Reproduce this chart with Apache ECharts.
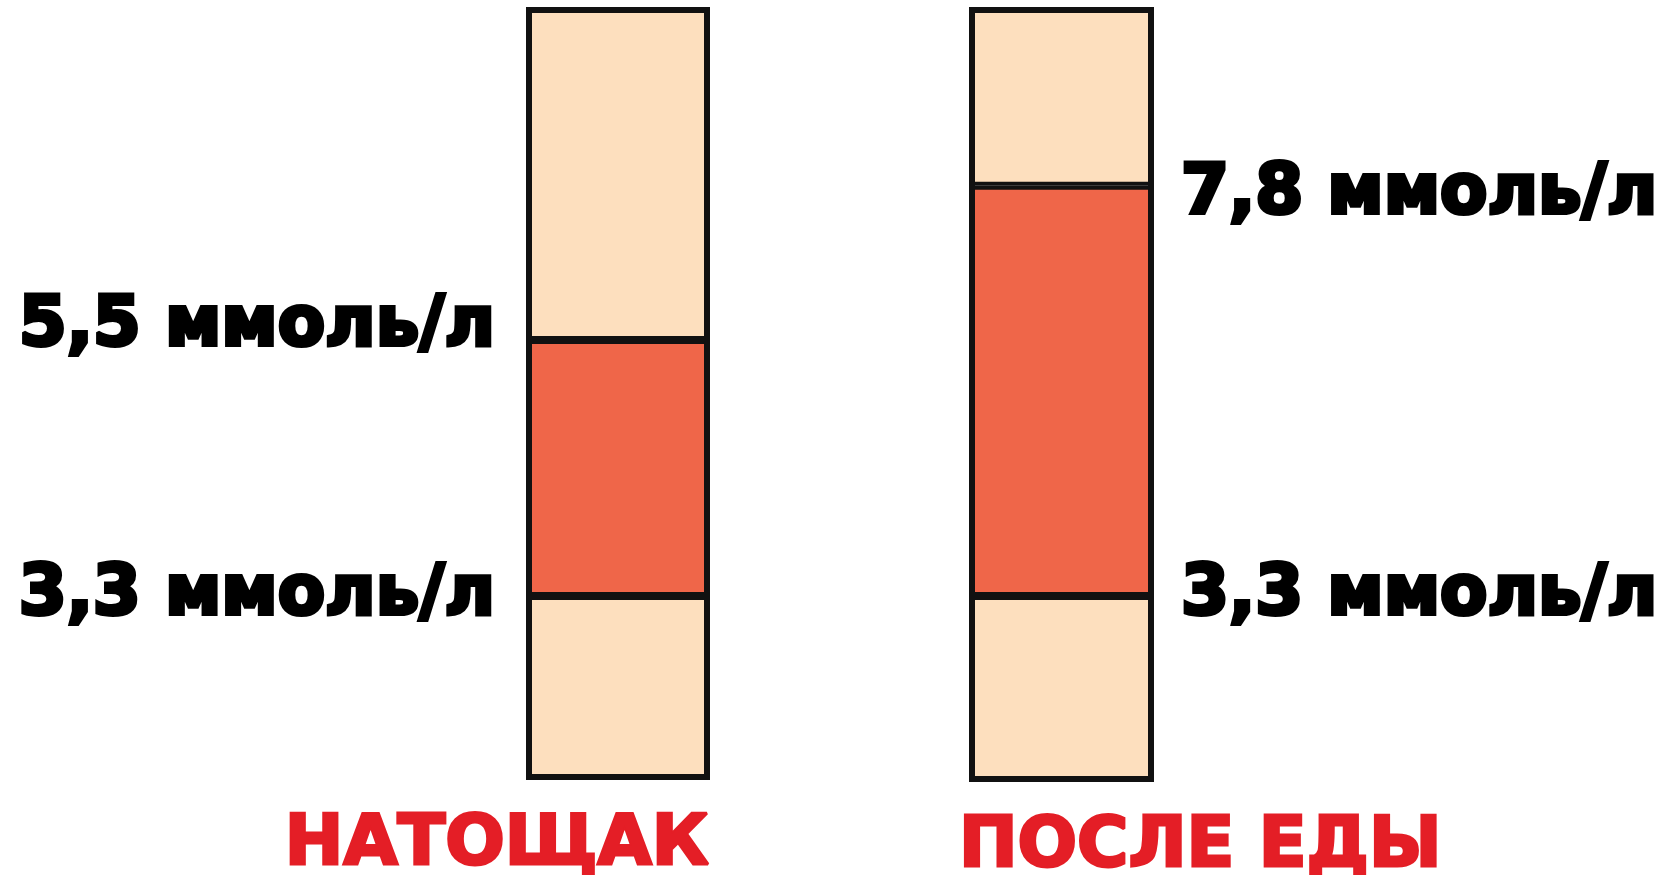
<!DOCTYPE html>
<html><head><meta charset="utf-8">
<script src="https://cdn.jsdelivr.net/npm/echarts@6/dist/echarts.min.js"></script>
<style>html,body{margin:0;padding:0;background:#fff}#c{width:1678px;height:875px}</style>
</head><body><div id="c"></div>
<script>
// Data
const categories = ['НАТОЩАК', 'ПОСЛЕ ЕДЫ'];
const lowerLimit = [3.3, 3.3];   // ммоль/л
const upperLimit = [5.5, 7.8];   // ммоль/л
const axisMin = [1.72, 1.26];    // schematic extent of each scale
const axisMax = [8.36, 9.76];

const PEACH = '#FDDFBE', ORANGE = '#EF6649', RED = '#E41E26', INK = '#111';
const fmt = v => v.toFixed(1).replace('.', ',') + ' ммоль/л';
const numFont = {fontFamily: 'DejaVu Sans', fontWeight: 'bold', fontSize: 69, color: '#000', textBorderColor: '#000', textBorderWidth: 4};

const grids = [
  {left: 526, top: 7, width: 184, height: 773},
  {left: 969, top: 7, width: 185, height: 775}
];
const xAxes = [], yAxes = [], series = [];
categories.forEach((cat, i) => {
  xAxes.push({type: 'category', gridIndex: i, data: [cat], boundaryGap: true,
    axisLine: {show: false}, axisTick: {show: false}, axisLabel: {show: false}});
  yAxes.push({type: 'value', gridIndex: i, min: axisMin[i], max: axisMax[i],
    position: i === 0 ? 'left' : 'right',
    splitLine: {show: false}, axisLine: {show: false}, axisTick: {show: false},
    axisLabel: {show: true, margin: i === 0 ? 31 : 27, customValues: [lowerLimit[i], upperLimit[i]],
      formatter: v => {
        const t = fmt(v);
        if (Math.abs(v - upperLimit[i]) < 1e-6) return '{' + (i === 0 ? 'up' : 'down') + '|' + t + '}';
        return '{mid|' + t + '}';
      },
      rich: {
        up: Object.assign({padding: [0, 0, 26, 0]}, numFont),
        down: Object.assign({padding: [18, 0, 0, 0]}, numFont),
        mid: Object.assign({}, numFont)
      }
    }});
  const base = {type: 'bar', xAxisIndex: i, yAxisIndex: i, barWidth: '100%', barGap: '-100%',
    clip: false, silent: true};
  const seg = {borderColor: INK, borderWidth: 4};
  // transparent spacer up to the bottom of the visible scale
  series.push(Object.assign({}, base, {name: 'base', stack: 's' + i, data: [axisMin[i]],
    itemStyle: {color: 'rgba(0,0,0,0)', borderWidth: 0}}));
  series.push(Object.assign({}, base, {name: 'low', stack: 's' + i, data: [+(lowerLimit[i] - axisMin[i]).toFixed(2)],
    itemStyle: Object.assign({color: PEACH}, seg),
    label: {show: true, formatter: () => cat,
      position: i === 0 ? ['100%', '100%'] : ['0%', '100%'],
      align: i === 0 ? 'right' : 'left', verticalAlign: 'middle',
      offset: [i === 0 ? -1 : -10, 66],
      fontFamily: 'DejaVu Sans', fontWeight: 'bold', fontSize: 70,
      color: RED, textBorderColor: RED, textBorderWidth: 3}}));
  series.push(Object.assign({}, base, {name: 'mid', stack: 's' + i, data: [+(upperLimit[i] - lowerLimit[i]).toFixed(2)],
    itemStyle: Object.assign({color: ORANGE}, seg)}));
  series.push(Object.assign({}, base, {name: 'high', stack: 's' + i, data: [+(axisMax[i] - upperLimit[i]).toFixed(2)],
    itemStyle: Object.assign({color: PEACH}, seg)}));
  // outer frame over the whole column
  series.push(Object.assign({}, base, {name: 'frameBase', stack: 'f' + i, data: [axisMin[i]],
    itemStyle: {color: 'rgba(0,0,0,0)', borderWidth: 0}}));
  series.push(Object.assign({}, base, {name: 'frame', stack: 'f' + i, data: [+(axisMax[i] - axisMin[i]).toFixed(2)],
    itemStyle: {color: 'rgba(0,0,0,0)', borderColor: INK, borderWidth: 6}}));
});

const chart = echarts.init(document.getElementById('c'));
chart.setOption({animation: false, backgroundColor: '#fff', grid: grids, xAxis: xAxes, yAxis: yAxes, series});
</script></body></html>
